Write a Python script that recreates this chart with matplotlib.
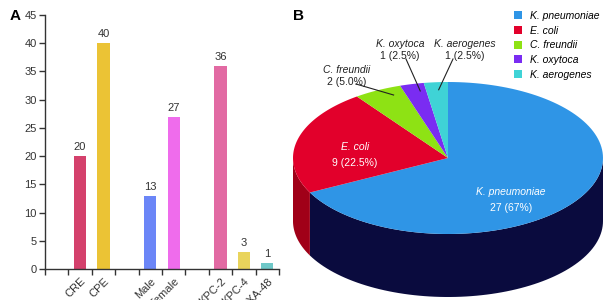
import numpy as np
import matplotlib
matplotlib.use('Agg')
from matplotlib import pyplot as plt
from matplotlib.patches import Polygon, Patch

plt.rcParams['font.family'] = ['Liberation Sans', 'DejaVu Sans']

# panel A data
bar_labels = ['CRE', 'CPE', 'Male', 'Female', 'KPC-2', 'KPC-4', 'OXA-48']
bar_values = [20, 40, 13, 27, 36, 3, 1]
bar_pos = [1, 2, 4, 5, 7, 8, 9]
bar_colors = ['#d4416c', '#ebc335', '#6b86f7', '#ef6cec', '#e26aa3', '#e9d45c', '#6fc8c8']

# panel B data
species = ['K. pneumoniae', 'E. coli', 'C. freundii', 'K. oxytoca', 'K. aerogenes']
counts = [27, 9, 2, 1, 1]
pct_labels = ['27 (67%)', '9 (22.5%)', '2 (5.0%)', '1 (2.5%)', '1 (2.5%)']
top_colors = ['#2f95e6', '#e2002b', '#8ee214', '#7a2cf2', '#3fd3d6']
side_colors = ['#0a0b3e', '#a00018', '#5f9a0c', '#4d1aa0', '#2a9094']

fig = plt.figure(figsize=(6.1, 3.0), dpi=100)

# ---- A: bar chart
ax = fig.add_axes([45/610, 31/300, 234/610, 254/300])
ax.bar(bar_pos, bar_values, width=0.52, color=bar_colors)
for x, v in zip(bar_pos, bar_values):
    ax.text(x, v + 0.7, str(v), ha='center', va='bottom', fontsize=8, color='#333333')
ax.set_xlim(-0.5, 9.5)
ax.set_ylim(0, 45)
ax.set_yticks(range(0, 46, 5))
ax.set_xticks(bar_pos)
ax.set_xticklabels(bar_labels, rotation=45, ha='right', rotation_mode='anchor')
ax.set_xticks(np.arange(-0.5, 10, 1), minor=True)
ax.tick_params(axis='x', which='major', length=0, pad=5, labelsize=8, labelcolor='#333333')
ax.tick_params(axis='x', which='minor', length=4, width=1, color='#333333')
ax.tick_params(axis='y', length=4, width=1, color='#333333', labelsize=8, labelcolor='#333333', pad=2)
for s in ['top', 'right']:
    ax.spines[s].set_visible(False)
for s in ['left', 'bottom']:
    ax.spines[s].set_color('#333333')
    ax.spines[s].set_linewidth(1)

fig.text(10/610, 1 - 16/300, 'A', fontsize=11, fontweight='bold', va='center', ha='left')
fig.text(293/610, 1 - 16/300, 'B', fontsize=11, fontweight='bold', va='center', ha='left')

# ---- B: 3D-looking pie
ax2 = fig.add_axes([285/610, 0, 325/610, 1])
ax2.set_xlim(-163, 162)
ax2.set_ylim(-142, 158)
ax2.axis('off')

a, b, depth = 155, 76, 63
fracs = np.array(counts) / sum(counts)
ends = 90 - 360 * np.concatenate([[0], np.cumsum(fracs)])

def ell(t):
    t = np.radians(t)
    return a * np.cos(t), b * np.sin(t)

# side walls (front half only)
for i in range(len(counts)):
    lo, hi = max(ends[i + 1], -180), min(ends[i], 0)
    if hi <= lo:
        continue
    t = np.linspace(lo, hi, 80)
    x, y = ell(t)
    pts = np.vstack([np.column_stack([x, y]), np.column_stack([x[::-1], y[::-1] - depth])])
    ax2.add_patch(Polygon(pts, closed=True, facecolor=side_colors[i], edgecolor='none', zorder=1))

# top surface
for i in range(len(counts)):
    t = np.linspace(ends[i + 1], ends[i], 120)
    x, y = ell(t)
    pts = np.vstack([[0, 0], np.column_stack([x, y])])
    ax2.add_patch(Polygon(pts, closed=True, facecolor=top_colors[i], edgecolor='none', zorder=2))

# labels inside
label_pos = {0: (63, -34), 1: (-93, 11), 2: (-101, 88), 3: (-48, 114), 4: (17, 114)}
for i in (0, 1):
    lx, ly = label_pos[i]
    ax2.text(lx, ly, species[i], ha='center', va='center', fontsize=7.5, style='italic', color='white', zorder=3)
    ax2.text(lx, ly - 16, pct_labels[i], ha='center', va='center', fontsize=7.5, color='white', zorder=3)

# labels outside with leader lines
line_start = {2: (-92, 74), 3: (-42, 99), 4: (5, 99)}
for i in (2, 3, 4):
    lx, ly = label_pos[i]
    ax2.text(lx, ly, species[i], ha='center', va='center', fontsize=7.5, style='italic', color='#222222', zorder=3)
    ax2.text(lx, ly - 12.5, pct_labels[i], ha='center', va='center', fontsize=7.5, color='#222222', zorder=3)
    mid = ((ends[i] + ends[i + 1]) / 2) % 360
    ex, ey = ell(90 + (mid - 90) * 0.85)
    ex, ey = ex * 0.9, ey * 0.9
    sx, sy = line_start[i]
    ax2.plot([sx, ex], [sy, ey], color='#222222', lw=0.8, zorder=3)

handles = [Patch(facecolor=c, edgecolor='none') for c in top_colors]
fig.legend(handles, species, loc='upper left', bbox_to_anchor=(514/610, 1 - 11/300),
           frameon=False, prop={'size': 7.5, 'style': 'italic'},
           handlelength=0.8, handleheight=0.8, handletextpad=0.7, labelspacing=0.45,
           borderaxespad=0, borderpad=0)

fig.savefig('out.png', dpi=100)
